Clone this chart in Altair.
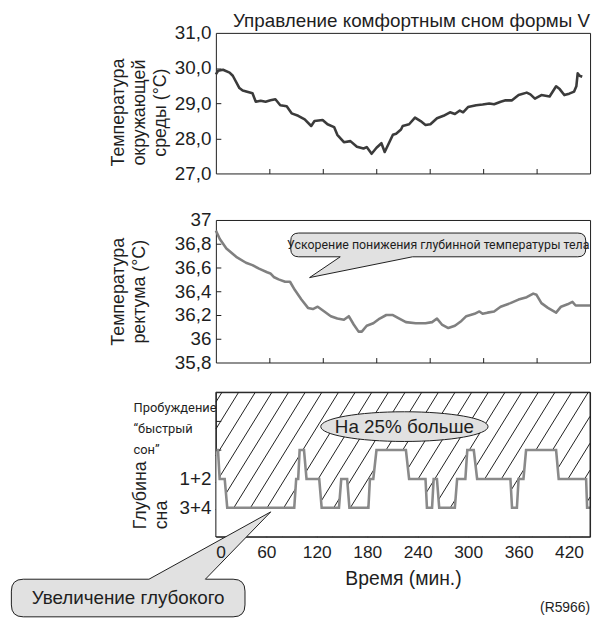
import altair as alt
import pandas as pd

FONT = "Liberation Sans, Arial, Helvetica, sans-serif"
NARROW = "Roboto, Liberation Sans, sans-serif"
INK = "#1e1e1e"

# ---- data ----
amb_t = [0, 2.5, 8.0, 15.4, 19.0, 26.4, 30.1, 41.1, 44.8, 50.3, 55.8, 61.3, 66.8, 72.3, 79.5,
         85.0, 92.4, 99.7, 107.0, 110.7, 119.8, 125.3, 132.7, 136.3, 143.7, 151.0, 158.3, 165.7,
         169.3, 174.8, 180.3, 185.8, 189.5, 198.7, 202.3, 207.8, 209.7, 216.9, 223.5, 229.8, 235.3,
         240.8, 248.2, 255.5, 262.8, 268.3, 273.8, 277.5, 283.0, 292.2, 299.4, 306.8, 312.3, 319.7,
         325.2, 332.4, 339.8, 348.9, 353.0, 358.1, 365.4, 374.6, 381.9, 385.9, 391.1, 396.6, 402.1,
         404.6, 406.1, 408.3, 411.2]
amb_v = [29.82, 29.92, 29.95, 29.87, 29.78, 29.43, 29.36, 29.28, 29.04, 29.07, 29.04, 29.08, 29.11,
         28.94, 28.91, 28.71, 28.64, 28.54, 28.35, 28.49, 28.52, 28.40, 28.32, 28.10, 27.89, 27.92,
         27.76, 27.71, 27.75, 27.56, 27.73, 27.86, 27.61, 28.10, 28.13, 28.25, 28.35, 28.40, 28.59,
         28.49, 28.38, 28.40, 28.57, 28.64, 28.74, 28.69, 28.79, 28.74, 28.89, 28.94, 28.96, 28.99,
         28.97, 29.04, 29.08, 29.08, 29.23, 29.30, 29.25, 29.13, 29.23, 29.19, 29.48, 29.40, 29.23,
         29.27, 29.33, 29.48, 29.85, 29.78, 29.75]

rec_t = [0, 4.4, 11.8, 22.8, 33.8, 41.0, 48.4, 57.5, 61.2, 64.9, 70.4, 77.7, 83.2, 88.7, 96.0,
         103.4, 108.9, 114.3, 121.7, 129.0, 136.3, 143.7, 149.2, 154.7, 160.2, 163.8, 169.3, 176.7,
         183.9, 191.3, 198.7, 205.9, 213.3, 224.3, 235.3, 242.7, 248.2, 253.7, 260.9, 268.3, 275.6,
         281.1, 290.3, 295.8, 299.4, 304.9, 312.3, 319.6, 330.6, 339.7, 348.9, 356.2, 359.9, 365.4,
         372.7, 381.9, 387.4, 394.7, 400.2, 403.8, 420.0]
rec_v = [36.91, 36.84, 36.76, 36.69, 36.64, 36.62, 36.59, 36.56, 36.55, 36.52, 36.50, 36.48, 36.48,
         36.41, 36.33, 36.26, 36.25, 36.27, 36.23, 36.19, 36.17, 36.16, 36.19, 36.12, 36.06, 36.06,
         36.11, 36.13, 36.17, 36.20, 36.20, 36.17, 36.14, 36.13, 36.13, 36.14, 36.17, 36.12, 36.09,
         36.11, 36.15, 36.19, 36.21, 36.23, 36.21, 36.22, 36.23, 36.27, 36.30, 36.33, 36.35, 36.38,
         36.37, 36.30, 36.26, 36.22, 36.27, 36.29, 36.31, 36.28, 36.28]

# sleep depth: 4 = awake, 3 = REM, 2 = stage 1+2, 1 = stage 3+4
slp_t = [0, 2.5, 4.5, 10.5, 13.5, 93.2, 95.5, 97.9, 99.6, 104.8, 107.8, 122.9, 125.8, 146.4, 149.1,
         156.1, 158.8, 181.4, 183.2, 187.2, 191.0, 226.0, 229.8, 249.3, 251.0, 257.1, 259.0, 262.9,
         265.6, 284.2, 286.9, 296.7, 299.0, 306.7, 310.7, 350.3, 352.2, 358.0, 360.0, 365.8, 368.9,
         404.6, 407.7, 440.3, 441.5, 445.0]
slp_l = [3, 3, 2, 2, 1, 1, 2, 2, 3, 3, 2, 2, 1, 1, 2, 2, 1, 1, 2, 2, 3, 3, 2, 2, 1, 1, 2, 2, 1, 1,
         2, 2, 3, 3, 2, 2, 1, 1, 2, 2, 3, 3, 2, 2, 1, 1]

title_main = "Управление комфортным сном формы V"
title_amb = ["Температура", "окружающей", "среды (°C)"]
title_rec = ["Температура", "ректума (°C)"]
title_slp = ["Глубина", "сна"]
x_title = "Время (мин.)"
note_rec = "Ускорение понижения глубинной температуры тела"
note_rem = "На 25% больше"
note_deep = "Увеличение глубокого"
stage_upper = ["Пробуждение", "“быстрый", "сон”"]
code_ref = "(R5966)"

W = 378
H1, H2, H3 = 142, 144, 146
X12 = [0, 420]
X3 = [0, 445]
TICKS12 = [60, 120, 180, 240, 300, 360]
TICKS3 = [0, 60, 120, 180, 240, 300, 360, 420]

df1 = pd.DataFrame({"t": amb_t, "v": amb_v})
df2 = pd.DataFrame({"t": rec_t, "v": rec_v})
df3 = pd.DataFrame({"t": slp_t, "lvl": slp_l})

# callout outlines (symbol paths in pixels, size=4 -> scale 1)
BUB2 = ("M -141 -12 H 141 Q 149 -12 149 -4 V 4 Q 149 12 141 12 H -26 L -130 33 L -99 12 "
        "H -141 Q -149 12 -149 4 V -4 Q -149 -12 -141 -12 Z")
ELL = "M -84.5 0 A 84.5 15 0 1 1 84.5 0 A 84.5 15 0 1 1 -84.5 0 Z"
BUB3 = ("M -106 -19 H 21 L 144 -87 L 78 -19 H 106 Q 118 -19 118 -7 V 7 Q 118 19 106 19 "
        "H -106 Q -118 19 -118 7 V -7 Q -118 -19 -106 -19 Z")
BUBBLE_FILL = "#e1e1e1"


def tick_axes(df, xf, yf, xs, ys, h, xvals, yvals):
    return alt.Chart(df).mark_point(opacity=0, size=0).encode(
        x=alt.X(xf, scale=xs, axis=alt.Axis(orient="top", offset=-h, values=xvals, labels=False,
                                            domain=False, grid=False, title=None, tickSize=5,
                                            tickColor=INK)),
        y=alt.Y(yf, scale=ys, axis=alt.Axis(orient="right", offset=-W, values=yvals, labels=False,
                                            domain=False, grid=False, title=None, tickSize=5,
                                            tickColor=INK, minExtent=0)),
    )


def ylab(title, tx, ty, align, **kw):
    return dict(ticks=False, tickSize=0, domain=False, grid=False, labelFontSize=19,
                labelPadding=5, title=title, titleAngle=270, titleX=tx, titleY=ty,
                titleAlign=align, titleBaseline="middle", titleLineHeight=21, titleFontSize=18,
                titleFontWeight="normal", **kw)


# ---- panel 1 ----
xs1 = alt.Scale(domain=X12, nice=False, zero=False)
ys1 = alt.Scale(domain=[27, 31], nice=False, zero=False)
p1 = alt.layer(
    alt.Chart(df1).mark_line(color="#3b3b3b", strokeWidth=2.6, strokeJoin="round").encode(
        x=alt.X("t:Q", scale=xs1, axis=alt.Axis(orient="bottom", labels=False, ticks=False,
                                                domain=False, grid=False, title=None,
                                                minExtent=18)),
        y=alt.Y("v:Q", scale=ys1, axis=alt.Axis(
            orient="left", values=[27, 28, 29, 30, 31],
            labelExpr="replace(format(datum.value, '.1f'), '.', ',')",
            **ylab(title_amb, -98, 80, "center"))),
    ),
    tick_axes(df1, "t:Q", "v:Q", xs1, ys1, H1, TICKS12, [28, 29, 30]),
).resolve_axis(x="independent", y="independent").properties(
    width=W, height=H1,
    title=alt.TitleParams(title_main, anchor="end", fontSize=19, fontWeight="normal",
                          offset=-7, color=INK),
)

# ---- panel 2 ----
xs2 = alt.Scale(domain=X12, nice=False, zero=False)
ys2 = alt.Scale(domain=[35.8, 37], nice=False, zero=False)
ann2 = pd.DataFrame({"t": [249.6], "v": [36.79], "txt": [note_rec]})
p2 = alt.layer(
    alt.Chart(df2).mark_line(color="#808080", strokeWidth=2.6, strokeJoin="round").encode(
        x=alt.X("t:Q", scale=xs2, axis=alt.Axis(orient="bottom", labels=False, ticks=False,
                                                domain=False, grid=False, title=None)),
        y=alt.Y("v:Q", scale=ys2, axis=alt.Axis(
            orient="left", values=[35.8, 36, 36.2, 36.4, 36.6, 36.8, 37],
            labelExpr="replace(format(datum.value, '.3~r'), '.', ',')",
            **ylab(title_rec, -98, 72, "center"))),
    ),
    alt.Chart(ann2).mark_point(shape=BUB2, size=4, filled=True, fill=BUBBLE_FILL, stroke=INK,
                               strokeWidth=1, opacity=1).encode(
        x=alt.X("t:Q", scale=xs2, axis=None), y=alt.Y("v:Q", scale=ys2, axis=None)),
    alt.Chart(ann2).mark_text(font=NARROW, fontSize=12.5, color=INK).encode(
        x=alt.X("t:Q", scale=xs2, axis=None), y=alt.Y("v:Q", scale=ys2, axis=None), text="txt:N"),
    tick_axes(df2, "t:Q", "v:Q", xs2, ys2, H2, TICKS12, [36, 36.2, 36.4, 36.6, 36.8]),
).resolve_axis(x="independent", y="independent").properties(width=W, height=H2)

# ---- panel 3 ----
xs3 = alt.Scale(domain=X3, nice=False, zero=False)
ys3 = alt.Scale(domain=[0, 5], nice=False, zero=False)

# diagonal hatching, each stroke trimmed to the plot box
hatch = alt.Chart(alt.sequence(start=-5, stop=23, step=1, as_="k")).transform_calculate(
    xa="datum.k * 19.8"
).transform_calculate(
    x0="max(datum.xa, 0)", x1="min(datum.xa + 106.3, 445)"
).transform_calculate(
    y0="(datum.x0 - datum.xa) * 5 / 106.3", y1="(datum.x1 - datum.xa) * 5 / 106.3"
).transform_filter("datum.x0 < datum.x1").mark_rule(color=INK, strokeWidth=1).encode(
    x=alt.X("x0:Q", scale=xs3, axis=None), x2="x1:Q",
    y=alt.Y("y0:Q", scale=ys3, axis=None), y2="y1:Q")

under = alt.Chart(df3).transform_calculate(base="0").mark_area(
    color="white", opacity=1, interpolate="linear").encode(
    x=alt.X("t:Q", scale=xs3, axis=None), y=alt.Y("lvl:Q", scale=ys3, axis=None), y2="base:Q")

step = alt.Chart(df3).mark_line(color="#8a8a8a", strokeWidth=2.6).encode(
    x=alt.X("t:Q", scale=xs3, axis=alt.Axis(
        orient="bottom", values=TICKS3, ticks=False, domain=False, grid=False, labelFontSize=17.5,
        labelPadding=7, title=x_title, titleFontSize=19.5, titleFontWeight="normal",
        titlePadding=9, zindex=1)),
    y=alt.Y("lvl:Q", scale=ys3, axis=alt.Axis(
        orient="left", values=[1, 2],
        labelExpr="datum.value == 2 ? '1+2' : '3+4'",
        **ylab(title_slp, -76, 138, "left"))),
)

frame = alt.Chart(pd.DataFrame({"x0": [X3[0]], "x1": [X3[1]], "y0": [0], "y1": [5]})).mark_rect(
    filled=False, stroke=INK, strokeWidth=1).encode(
    x=alt.X("x0:Q", scale=xs3, axis=None), x2="x1:Q",
    y=alt.Y("y0:Q", scale=ys3, axis=None), y2="y1:Q")

ann_ell = pd.DataFrame({"t": [224.2], "lvl": [3.81], "txt": [note_rem]})
ann_deep = pd.DataFrame({"t": [-104.3], "lvl": [-2.12], "txt": [note_deep]})
ann_stage = pd.DataFrame({"t": [-97.9], "lvl": [4.45]})
ann_code = pd.DataFrame({"t": [X3[1]], "lvl": [-2.47], "txt": [code_ref]})


def pos3():
    return dict(x=alt.X("t:Q", scale=xs3, axis=None), y=alt.Y("lvl:Q", scale=ys3, axis=None))


p3 = alt.layer(
    hatch,
    under,
    step,
    frame,
    alt.Chart(ann_ell).mark_point(shape=ELL, size=4, filled=True, fill=BUBBLE_FILL, stroke=INK,
                                  strokeWidth=1, opacity=1).encode(**pos3()),
    alt.Chart(ann_ell).mark_text(fontSize=19, color=INK).encode(text="txt:N", **pos3()),
    alt.Chart(ann_stage).mark_text(text=stage_upper, font=NARROW, fontSize=13, align="left",
                                   baseline="middle", lineHeight=21, color=INK).encode(**pos3()),
    alt.Chart(ann_deep).mark_point(shape=BUB3, size=4, filled=True, fill=BUBBLE_FILL, stroke=INK,
                                   strokeWidth=1, opacity=1).encode(**pos3()),
    alt.Chart(ann_deep).mark_text(fontSize=19, color=INK).encode(text="txt:N", **pos3()),
    alt.Chart(ann_code).mark_text(fontSize=14, align="right", color=INK).encode(
        text="txt:N", **pos3()),
    tick_axes(df3, "t:Q", "lvl:Q", xs3, ys3, H3, TICKS3[1:], [1, 2, 3, 4]),
).resolve_axis(x="independent", y="independent").properties(width=W, height=H3)

chart = alt.vconcat(p1, p2, p3, spacing=18).properties(
    padding={"left": 0, "right": 0, "top": 0, "bottom": 0},
    autosize=alt.AutoSizeParams(type="pad", contains="content"),
).configure(font=FONT).configure_view(stroke=INK, strokeWidth=1).configure_axis(
    labelColor=INK, titleColor=INK, labelFont=FONT, titleFont=FONT
)

chart.save("out.html", embed_options={"renderer": "svg", "actions": False})
